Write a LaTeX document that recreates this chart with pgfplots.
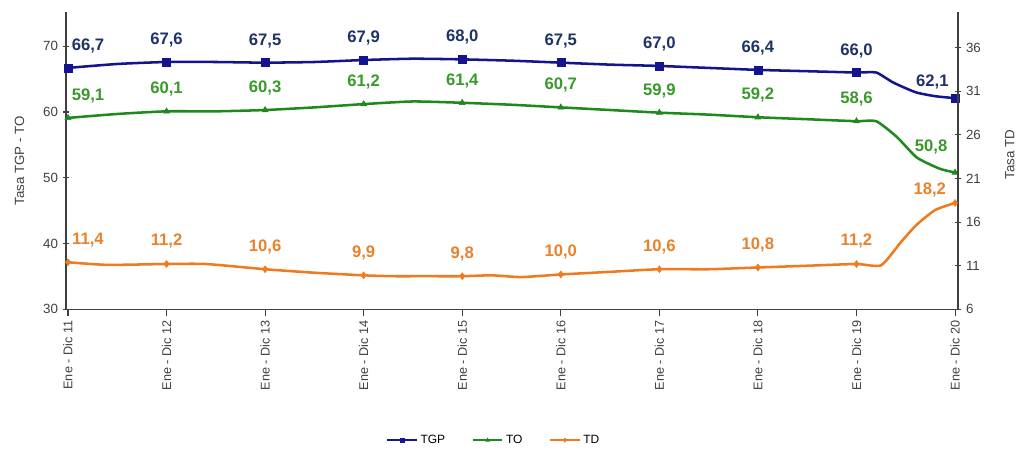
\documentclass[border=0pt]{standalone}
\usepackage{pgfplots}
\pgfplotsset{compat=1.18}
\usepackage{pgfplotstable}
\usepackage{fontspec}
\setmainfont{Liberation Sans}

\definecolor{tgpline}{HTML}{14148F}
\definecolor{tgplab}{HTML}{1F3466}
\definecolor{toline}{HTML}{1E8A1E}
\definecolor{tolab}{HTML}{3A992B}
\definecolor{tdline}{HTML}{F07A1E}
\definecolor{tdlab}{HTML}{E8822C}
\definecolor{axgray}{HTML}{404040}

% annual points with labels: x y label dx dy (pt)
\pgfplotstableread{
x y lab dx dy
0 66.7 66,7 15 16.5
1 67.6 67,6 0 16.5
2 67.5 67,5 0 16.5
3 67.9 67,9 0 16.5
4 68.0 68,0 0 16.5
5 67.5 67,5 0 16.5
6 67.0 67,0 0 16.5
7 66.4 66,4 0 16.5
8 66.0 66,0 0 16.5
9 62.1 62,1 -17 12
}\tgppts
\pgfplotstableread{
x y lab dx dy
0 59.1 59,1 15 16.5
1 60.1 60,1 0 16.5
2 60.3 60,3 0 16.5
3 61.2 61,2 0 16.5
4 61.4 61,4 0 16.5
5 60.7 60,7 0 16.5
6 59.9 59,9 0 16.5
7 59.2 59,2 0 16.5
8 58.6 58,6 0 16.5
9 50.8 50,8 -18 19
}\topts
\pgfplotstableread{
x y lab dx dy
0 11.4 11,4 15 17
1 11.2 11,2 0 17
2 10.6 10,6 0 17
3 9.9 9,9 0 17
4 9.8 9,8 0 17
5 10.0 10,0 0 17
6 10.6 10,6 0 17
7 10.8 10,8 0 17
8 11.2 11,2 0 17
9 18.2 18,2 -19 10
}\tdpts

% line paths (annual values plus intermediate readings)
\pgfplotstableread{
x y
0 66.7
0.5 67.3
1 67.6
1.5 67.6
2 67.5
2.5 67.6
3 67.9
3.5 68.1
4 68.0
4.5 67.8
5 67.5
5.5 67.2
6 67.0
6.5 66.7
7 66.4
7.5 66.2
8 66.0
8.2 66.0
8.37 64.5
8.6 63.0
8.8 62.4
9 62.1
}\tgpline
\pgfplotstableread{
x y
0 59.1
0.5 59.7
1 60.1
1.5 60.1
2 60.3
2.5 60.7
3 61.2
3.5 61.6
4 61.4
4.5 61.1
5 60.7
5.5 60.3
6 59.9
6.5 59.6
7 59.2
7.5 58.9
8 58.6
8.2 58.6
8.41 56.2
8.61 53.1
8.84 51.4
9 50.8
}\toline
\pgfplotstableread{
x y
0 11.4
0.4 11.1
1 11.2
1.4 11.2
2 10.6
2.5 10.2
3 9.9
3.3 9.8
3.6 9.8
4 9.8
4.3 9.9
4.6 9.7
5 10.0
5.5 10.3
6 10.6
6.5 10.6
7 10.8
7.5 11.0
8 11.2
8.25 11.05
8.45 13.7
8.61 15.7
8.8 17.4
9 18.2
}\tdline

\begin{document}
\begin{tikzpicture}
\useasboundingbox (-49.5pt,-106.5pt) rectangle (714.75pt,232pt);
\pgfplotsset{
  base/.style={
    at={(0,0)}, anchor=south west,
    scale only axis, width=669pt, height=223pt,
    xmin=-0.02, xmax=9.03,
    axis line style={axgray, line width=0.9pt},
    tick style={axgray, line width=0.8pt},
    tick label style={font=\fontsize{10}{12}\selectfont, text=black!75},
    label style={font=\fontsize{10}{12}\selectfont, text=black!75},
    /pgf/number format/assume math mode=true,
    clip=false,
  },
  lab/.style={
    nodes near coords,
    point meta=explicit symbolic,
    visualization depends on={\thisrow{dx} \as \dx},
    visualization depends on={\thisrow{dy} \as \dy},
    every node near coord/.style={anchor=center, xshift=\dx pt, yshift=\dy pt,
      font=\fontsize{12.5}{14}\selectfont\bfseries, text=#1},
  },
}
\begin{axis}[base,
  ymin=30, ymax=75.2,
  axis x line=bottom, axis y line=left,
  x axis line style={-}, y axis line style={-},
  ytick={30,40,50,60,70},
  xtick={0,...,9},
  xticklabels={Ene - Dic 11,Ene - Dic 12,Ene - Dic 13,Ene - Dic 14,Ene - Dic 15,Ene - Dic 16,Ene - Dic 17,Ene - Dic 18,Ene - Dic 19,Ene - Dic 20},
  x tick label style={rotate=90, anchor=east, font=\fontsize{9.5}{11}\selectfont},
  xtick align=outside,
  ytick align=center,
  major tick length=5pt,
  ylabel={Tasa TGP - TO},
  ylabel style={at={(axis description cs:-0.052,0.5)}, anchor=center},
]
\addplot[tgpline, line width=1.9pt, smooth, tension=0.35] table[x=x,y=y] {\tgpline};
\addplot[toline, line width=1.9pt, smooth, tension=0.35] table[x=x,y=y] {\toline};
\addplot[only marks, mark=square*, mark size=3pt, tgpline, lab=tgplab] table[x=x,y=y,meta=lab] {\tgppts};
\addplot[only marks, mark=triangle*, mark size=2.6pt, toline, lab=tolab] table[x=x,y=y,meta=lab] {\topts};
\end{axis}
\begin{axis}[base,
  ymin=6, ymax=40.1,
  axis x line=none, axis y line*=right,
  y axis line style={-},
  ytick={6,11,16,21,26,31,36},
  ytick align=center,
  major tick length=5pt,
  ylabel={Tasa TD},
  ylabel style={at={(axis description cs:1.058,0.52)}, anchor=center, rotate=0},
  legend style={at={(axis description cs:0.48,-0.44)}, anchor=center,
    draw=none, fill=none, legend columns=3,
    font=\fontsize{9}{10}\selectfont,
    /tikz/every even column/.append style={column sep=18pt}},
  legend image code/.code={\draw[#1, line width=1.6pt] (0pt,0pt) -- (22pt,0pt); \draw[#1, only marks, mark size=1.6pt] plot coordinates {(11pt,0pt)};},
]
\addlegendimage{tgpline, mark=square*}
\addlegendentry{TGP}
\addlegendimage{toline, mark=triangle*}
\addlegendentry{TO}
\addplot[tdline, line width=1.9pt, smooth, tension=0.35, forget plot] table[x=x,y=y] {\tdline};
\addplot[only marks, mark=diamond*, mark size=2.6pt, tdline, lab=tdlab, forget plot] table[x=x,y=y,meta=lab] {\tdpts};
\addlegendimage{tdline, mark=diamond*}
\addlegendentry{TD}
\end{axis}
\end{tikzpicture}
\end{document}
